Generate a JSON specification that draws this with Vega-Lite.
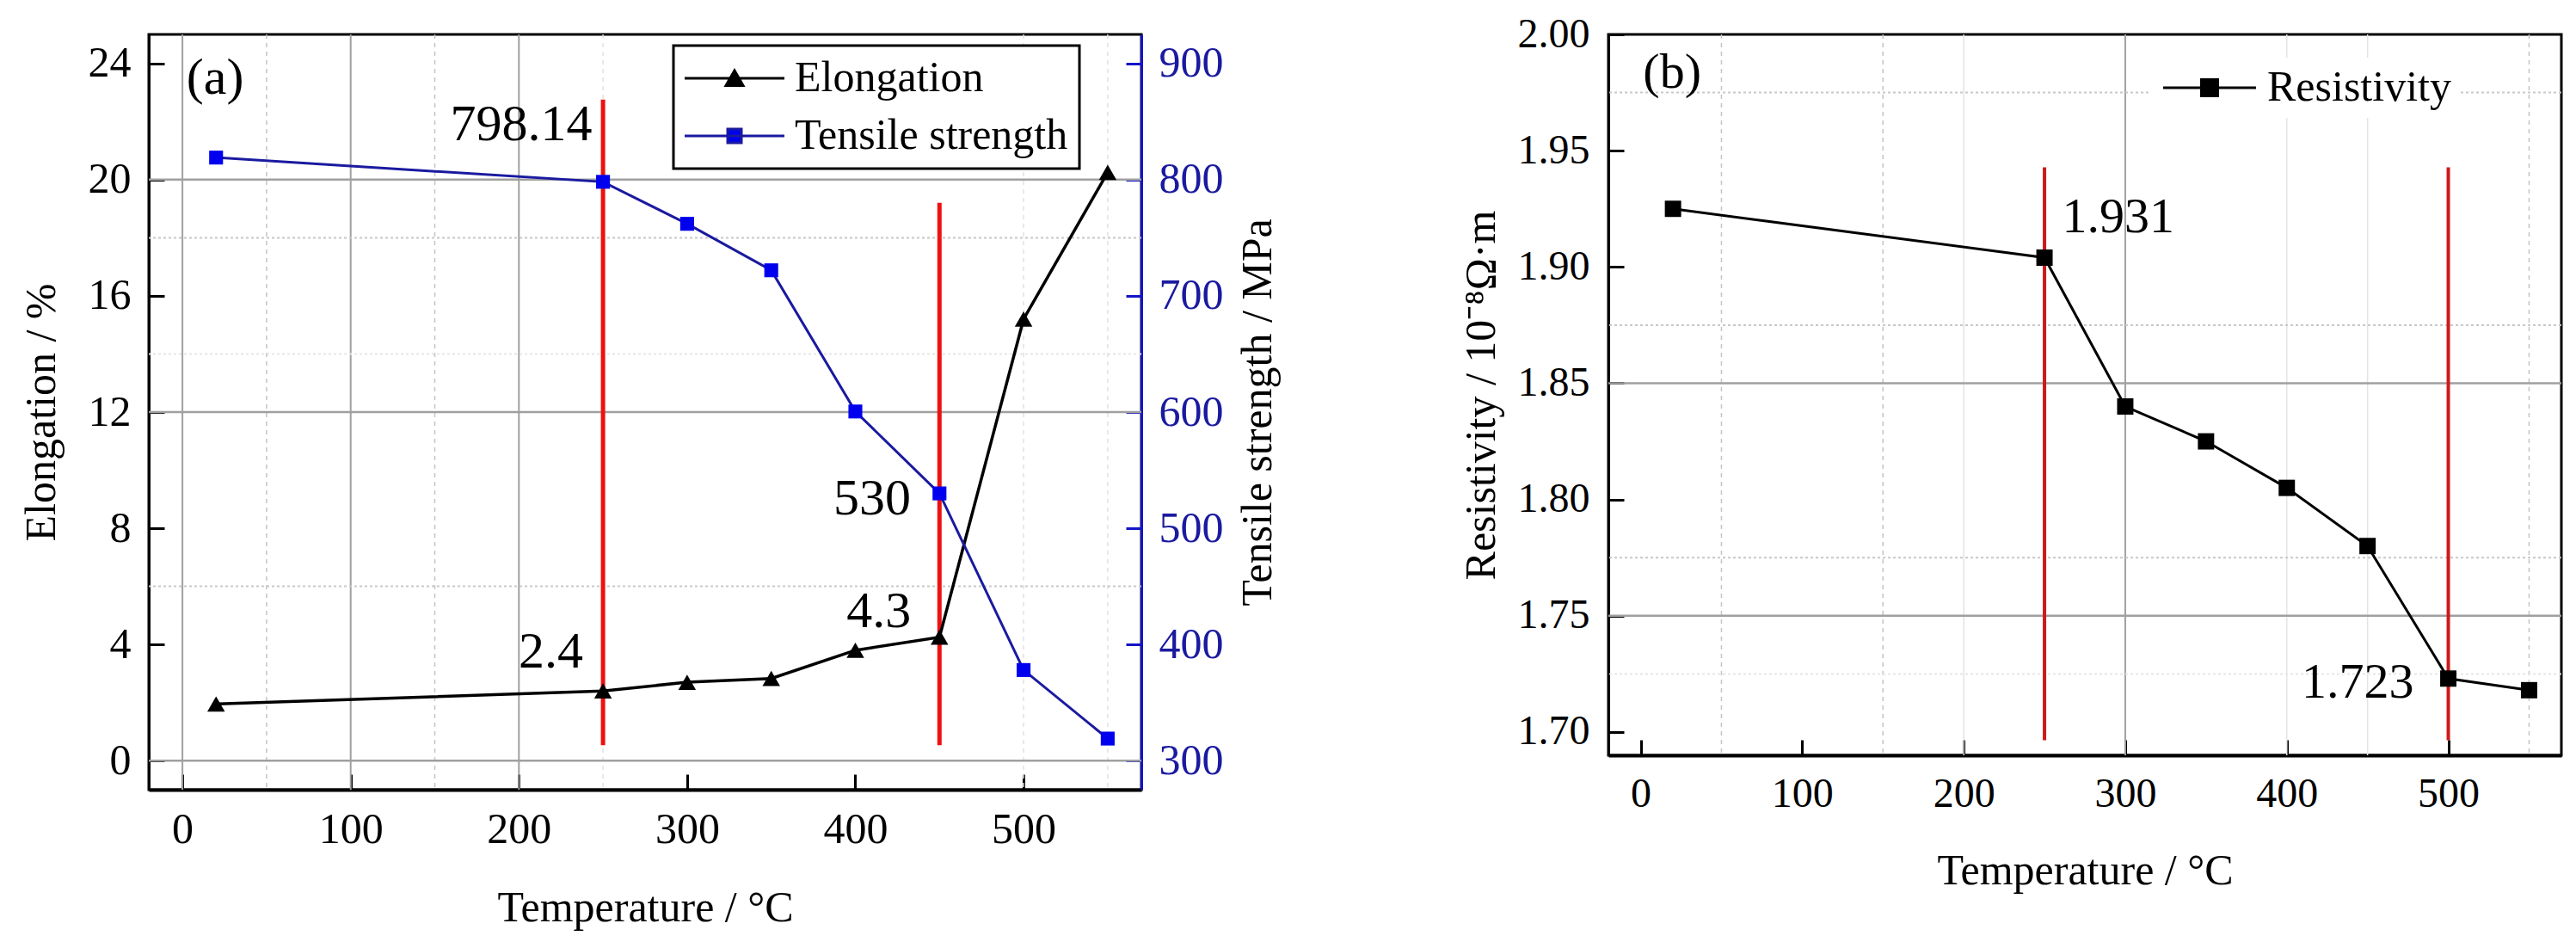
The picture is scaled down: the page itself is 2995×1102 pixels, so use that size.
{
  "$schema": "https://vega.github.io/schema/vega-lite/v6.json",
  "background": "white",
  "autosize": {"type": "none"},
  "padding": {"left": 173, "top": 40, "right": 2822, "bottom": 1062},
  "bounds": "flush",
  "spacing": 543,
  "datasets": {
    "mech": [
      {"T": 20, "elong": 1.95, "tensile": 819},
      {"T": 250, "elong": 2.4, "tensile": 798.14},
      {"T": 300, "elong": 2.7, "tensile": 762},
      {"T": 350, "elong": 2.83, "tensile": 722},
      {"T": 400, "elong": 3.8, "tensile": 600.5},
      {"T": 450, "elong": 4.25, "tensile": 530},
      {"T": 500, "elong": 15.2, "tensile": 378},
      {"T": 550, "elong": 20.25, "tensile": 319}
    ],
    "res": [
      {"T": 20, "rho": 1.925},
      {"T": 250, "rho": 1.904},
      {"T": 300, "rho": 1.84},
      {"T": 350, "rho": 1.825},
      {"T": 400, "rho": 1.805},
      {"T": 450, "rho": 1.78},
      {"T": 500, "rho": 1.723},
      {"T": 550, "rho": 1.718}
    ],
    "redA": [
      {"T": 250, "y1": 0.53, "y2": 22.76},
      {"T": 450, "y1": 0.53, "y2": 19.2}
    ],
    "redB": [
      {"T": 250, "y1": 1.6965, "y2": 1.9428},
      {"T": 500, "y1": 1.6965, "y2": 1.9428}
    ],
    "annA": [
      {"T": 201.4, "y": 21.9, "label": "798.14"},
      {"T": 219, "y": 3.74, "label": "2.4"},
      {"T": 414, "y": 5.13, "label": "4.3"},
      {"T": 410, "y": 9.0, "label": "530"},
      {"T": 19.4, "y": 23.5, "label": "(a)"}
    ],
    "annB": [
      {"T": 295.7, "y": 1.9211, "label": "1.931"},
      {"T": 443.9, "y": 1.7211, "label": "1.723"},
      {"T": 19.5, "y": 1.9835, "label": "(b)"}
    ]
  },
  "hconcat": [
    {
      "width": 1154,
      "height": 878,
      "layer": [
        {
          "data": {"values": [{"v": 0}, {"v": 100}, {"v": 200}]},
          "mark": {"type": "rule", "color": "#a0a0a0", "strokeWidth": 2},
          "encoding": {
            "x": {"field": "v", "type": "quantitative", "scale": {"domain": [-20, 570], "nice": false, "zero": false},
              "axis": {"values": [0, 100, 200, 300, 400, 500], "title": "Temperature / °C", "domainWidth": 4, "labelPadding": 39.5, "titlePadding": 41}}
          }
        },
        {
          "data": {"values": [{"v": 50}, {"v": 150}]},
          "mark": {"type": "rule", "color": "#c4c4c4", "strokeWidth": 1.5, "strokeDash": [5, 5]},
          "encoding": {"x": {"field": "v", "type": "quantitative", "scale": {"domain": [-20, 570], "nice": false, "zero": false},
            "axis": {"values": [0, 100, 200, 300, 400, 500], "title": "Temperature / °C", "domainWidth": 4, "labelPadding": 39.5, "titlePadding": 41}}}
        },
        {
          "data": {"values": [{"v": 250}, {"v": 500}, {"v": 550}]},
          "mark": {"type": "rule", "color": "#e2e2e2", "strokeWidth": 1.5, "strokeDash": [5, 5]},
          "encoding": {"x": {"field": "v", "type": "quantitative", "scale": {"domain": [-20, 570], "nice": false, "zero": false},
            "axis": {"values": [0, 100, 200, 300, 400, 500], "title": "Temperature / °C", "domainWidth": 4, "labelPadding": 39.5, "titlePadding": 41}}}
        },
        {
          "data": {"values": [{"h": 0}, {"h": 12}, {"h": 20}]},
          "mark": {"type": "rule", "color": "#a0a0a0", "strokeWidth": 2.5},
          "encoding": {"y": {"field": "h", "type": "quantitative", "scale": {"domain": [-1, 25], "nice": false, "zero": false}, "axis": null}}
        },
        {
          "data": {"values": [{"h": 6}, {"h": 18}]},
          "mark": {"type": "rule", "color": "#c8c8c8", "strokeWidth": 2, "strokeDash": [3, 3]},
          "encoding": {"y": {"field": "h", "type": "quantitative", "scale": {"domain": [-1, 25], "nice": false, "zero": false}, "axis": null}}
        },
        {
          "data": {"values": [{"h": 14}]},
          "mark": {"type": "rule", "color": "#e6e6e6", "strokeWidth": 2, "strokeDash": [3, 3]},
          "encoding": {"y": {"field": "h", "type": "quantitative", "scale": {"domain": [-1, 25], "nice": false, "zero": false}, "axis": null}}
        },
        {
          "data": {"name": "redA"},
          "mark": {"type": "rule", "color": "#ee1111", "strokeWidth": 5},
          "encoding": {
            "x": {"field": "T", "type": "quantitative", "scale": {"domain": [-20, 570], "nice": false, "zero": false},
              "axis": {"values": [0, 100, 200, 300, 400, 500], "title": "Temperature / °C", "domainWidth": 4, "labelPadding": 39.5, "titlePadding": 41}},
            "y": {"field": "y1", "type": "quantitative", "scale": {"domain": [-1, 25], "nice": false, "zero": false}, "axis": null},
            "y2": {"field": "y2"}
          }
        },
        {
          "data": {"name": "mech"},
          "mark": {"type": "line", "strokeWidth": 3.5, "color": "black"},
          "encoding": {
            "x": {"field": "T", "type": "quantitative", "scale": {"domain": [-20, 570], "nice": false, "zero": false},
              "axis": {"values": [0, 100, 200, 300, 400, 500], "title": "Temperature / °C", "domainWidth": 4, "labelPadding": 39.5, "titlePadding": 41}},
            "y": {"field": "elong", "type": "quantitative", "scale": {"domain": [-1, 25], "nice": false, "zero": false},
              "axis": {"values": [0, 4, 8, 12, 16, 20, 24], "title": "Elongation / %", "labelPadding": 39, "titlePadding": 29}}
          }
        },
        {
          "data": {"name": "mech"},
          "mark": {"type": "point", "shape": "triangle-up", "filled": true, "color": "black", "size": 420, "opacity": 1},
          "encoding": {
            "x": {"field": "T", "type": "quantitative", "scale": {"domain": [-20, 570], "nice": false, "zero": false},
              "axis": {"values": [0, 100, 200, 300, 400, 500], "title": "Temperature / °C", "domainWidth": 4, "labelPadding": 39.5, "titlePadding": 41}},
            "y": {"field": "elong", "type": "quantitative", "scale": {"domain": [-1, 25], "nice": false, "zero": false}, "axis": null}
          }
        },
        {
          "data": {"name": "annA"},
          "mark": {"type": "text", "fontSize": 60, "font": "Liberation Serif, Times New Roman, Times, serif", "color": "black", "align": "center", "baseline": "middle"},
          "encoding": {
            "x": {"field": "T", "type": "quantitative", "scale": {"domain": [-20, 570], "nice": false, "zero": false},
              "axis": {"values": [0, 100, 200, 300, 400, 500], "title": "Temperature / °C", "domainWidth": 4, "labelPadding": 39.5, "titlePadding": 41}},
            "y": {"field": "y", "type": "quantitative", "scale": {"domain": [-1, 25], "nice": false, "zero": false}, "axis": null},
            "text": {"field": "label"}
          }
        },
        {
          "data": {"name": "mech"},
          "mark": {"type": "line", "strokeWidth": 3, "color": "#1a1aa0"},
          "encoding": {
            "x": {"field": "T", "type": "quantitative", "scale": {"domain": [-20, 570], "nice": false, "zero": false},
              "axis": {"values": [0, 100, 200, 300, 400, 500], "title": "Temperature / °C", "domainWidth": 4, "labelPadding": 39.5, "titlePadding": 41}},
            "y": {"field": "tensile", "type": "quantitative", "scale": {"domain": [275, 925], "nice": false, "zero": false},
              "axis": {"orient": "right", "values": [300, 400, 500, 600, 700, 800, 900], "title": "Tensile strength / MPa", "titleAngle": -90, "titleBaseline": "top", "labelColor": "#1a1aa0", "domainColor": "#1414c8", "tickColor": "#1414c8", "labelPadding": 38, "titlePadding": 15}}
          }
        },
        {
          "data": {"name": "mech"},
          "mark": {"type": "point", "shape": "square", "filled": true, "color": "#0000ee", "size": 260, "opacity": 1},
          "encoding": {
            "x": {"field": "T", "type": "quantitative", "scale": {"domain": [-20, 570], "nice": false, "zero": false},
              "axis": {"values": [0, 100, 200, 300, 400, 500], "title": "Temperature / °C", "domainWidth": 4, "labelPadding": 39.5, "titlePadding": 41}},
            "y": {"field": "tensile", "type": "quantitative", "scale": {"domain": [275, 925], "nice": false, "zero": false}, "axis": null}
          }
        },
        {
          "data": {"values": []},
          "mark": {"type": "point", "filled": true, "opacity": 1},
          "encoding": {
            "x": {"field": "T", "type": "quantitative", "scale": {"domain": [-20, 570], "nice": false, "zero": false},
              "axis": {"values": [0, 100, 200, 300, 400, 500], "title": "Temperature / °C", "domainWidth": 4, "labelPadding": 39.5, "titlePadding": 41}},
            "y": {"field": "elong", "type": "quantitative", "scale": {"domain": [-1, 25], "nice": false, "zero": false}, "axis": null},
            "fill": {
              "datum": "Elongation", "type": "nominal",
              "scale": {"domain": ["Elongation", "Tensile strength"], "range": ["black", "#0000ee"]},
              "legend": {"orient": "none", "legendX": 610, "legendY": 13, "title": null, "symbolSize": 400, "symbolStrokeWidth": 3, "symbolOffset": 33, "symbolOpacity": 1,
                "labelOffset": 45, "labelLimit": 800, "labelFontSize": 50, "rowPadding": 17, "padding": 13, "strokeColor": "black", "fillColor": "white"}
            },
            "stroke": {
              "datum": "Elongation", "type": "nominal",
              "scale": {"domain": ["Elongation", "Tensile strength"], "range": ["black", "#1a1aa0"]},
              "legend": {"orient": "none", "legendX": 610, "legendY": 13, "title": null, "symbolSize": 400, "symbolStrokeWidth": 3, "symbolOffset": 33, "symbolOpacity": 1,
                "labelOffset": 45, "labelLimit": 800, "labelFontSize": 50, "rowPadding": 17, "padding": 13, "strokeColor": "black", "fillColor": "white"}
            },
            "shape": {
              "datum": "Elongation", "type": "nominal",
              "scale": {"domain": ["Elongation", "Tensile strength"], "range": ["M-5.8,0H5.8M-1,0.85L0,-0.9L1,0.85Z", "M-5.8,0H5.8M-0.8,-0.8H0.8V0.8H-0.8Z"]},
              "legend": {"orient": "none", "legendX": 610, "legendY": 13, "title": null, "symbolSize": 400, "symbolStrokeWidth": 3, "symbolOffset": 33, "symbolOpacity": 1,
                "labelOffset": 45, "labelLimit": 800, "labelFontSize": 50, "rowPadding": 17, "padding": 13, "strokeColor": "black", "fillColor": "white"}
            }
          }
        }
      ],
      "resolve": {"scale": {"y": "independent"}}
    },
    {
      "width": 1108,
      "height": 838,
      "layer": [
        {
          "data": {"values": [{"v": 300}]},
          "mark": {"type": "rule", "color": "#a0a0a0", "strokeWidth": 2},
          "encoding": {
            "x": {"field": "v", "type": "quantitative", "scale": {"domain": [-20, 570], "nice": false, "zero": false},
              "axis": {"values": [0, 100, 200, 300, 400, 500], "title": "Temperature / °C", "domainWidth": 4, "labelFontSize": 48, "labelPadding": 39, "titlePadding": 40}}
          }
        },
        {
          "data": {"values": [{"v": 50}, {"v": 150}, {"v": 550}]},
          "mark": {"type": "rule", "color": "#c4c4c4", "strokeWidth": 1.5, "strokeDash": [5, 5]},
          "encoding": {"x": {"field": "v", "type": "quantitative", "scale": {"domain": [-20, 570], "nice": false, "zero": false},
            "axis": {"values": [0, 100, 200, 300, 400, 500], "title": "Temperature / °C", "domainWidth": 4, "labelFontSize": 48, "labelPadding": 39, "titlePadding": 40}}}
        },
        {
          "data": {"values": [{"v": 200}, {"v": 400}, {"v": 450}]},
          "mark": {"type": "rule", "color": "#e4e4e4", "strokeWidth": 1.5},
          "encoding": {"x": {"field": "v", "type": "quantitative", "scale": {"domain": [-20, 570], "nice": false, "zero": false},
            "axis": {"values": [0, 100, 200, 300, 400, 500], "title": "Temperature / °C", "domainWidth": 4, "labelFontSize": 48, "labelPadding": 39, "titlePadding": 40}}}
        },
        {
          "data": {"values": [{"h": 1.85}, {"h": 1.75}]},
          "mark": {"type": "rule", "color": "#a0a0a0", "strokeWidth": 2.5},
          "encoding": {"y": {"field": "h", "type": "quantitative", "scale": {"domain": [1.69, 2.0], "nice": false, "zero": false},
            "axis": {"values": [1.7, 1.75, 1.8, 1.85, 1.9, 1.95, 2.0], "format": ".2f", "title": "Resistivity / 10⁻⁸Ω·m", "labelFontSize": 48, "labelPadding": 40, "titlePadding": 17}}}
        },
        {
          "data": {"values": [{"h": 1.975}, {"h": 1.875}, {"h": 1.775}]},
          "mark": {"type": "rule", "color": "#c8c8c8", "strokeWidth": 2, "strokeDash": [3, 3]},
          "encoding": {"y": {"field": "h", "type": "quantitative", "scale": {"domain": [1.69, 2.0], "nice": false, "zero": false},
            "axis": {"values": [1.7, 1.75, 1.8, 1.85, 1.9, 1.95, 2.0], "format": ".2f", "title": "Resistivity / 10⁻⁸Ω·m", "labelFontSize": 48, "labelPadding": 40, "titlePadding": 17}}}
        },
        {
          "data": {"values": [{"h": 1.725}]},
          "mark": {"type": "rule", "color": "#e6e6e6", "strokeWidth": 2, "strokeDash": [3, 3]},
          "encoding": {"y": {"field": "h", "type": "quantitative", "scale": {"domain": [1.69, 2.0], "nice": false, "zero": false},
            "axis": {"values": [1.7, 1.75, 1.8, 1.85, 1.9, 1.95, 2.0], "format": ".2f", "title": "Resistivity / 10⁻⁸Ω·m", "labelFontSize": 48, "labelPadding": 40, "titlePadding": 17}}}
        },
        {
          "data": {"name": "redB"},
          "mark": {"type": "rule", "color": "#cc1a1a", "strokeWidth": 4},
          "encoding": {
            "x": {"field": "T", "type": "quantitative", "scale": {"domain": [-20, 570], "nice": false, "zero": false},
              "axis": {"values": [0, 100, 200, 300, 400, 500], "title": "Temperature / °C", "domainWidth": 4, "labelFontSize": 48, "labelPadding": 39, "titlePadding": 40}},
            "y": {"field": "y1", "type": "quantitative", "scale": {"domain": [1.69, 2.0], "nice": false, "zero": false},
              "axis": {"values": [1.7, 1.75, 1.8, 1.85, 1.9, 1.95, 2.0], "format": ".2f", "title": "Resistivity / 10⁻⁸Ω·m", "labelFontSize": 48, "labelPadding": 40, "titlePadding": 17}},
            "y2": {"field": "y2"}
          }
        },
        {
          "data": {"name": "res"},
          "mark": {"type": "line", "strokeWidth": 3},
          "encoding": {
            "x": {"field": "T", "type": "quantitative", "scale": {"domain": [-20, 570], "nice": false, "zero": false},
              "axis": {"values": [0, 100, 200, 300, 400, 500], "title": "Temperature / °C", "domainWidth": 4, "labelFontSize": 48, "labelPadding": 39, "titlePadding": 40}},
            "y": {"field": "rho", "type": "quantitative", "scale": {"domain": [1.69, 2.0], "nice": false, "zero": false},
              "axis": {"values": [1.7, 1.75, 1.8, 1.85, 1.9, 1.95, 2.0], "format": ".2f", "title": "Resistivity / 10⁻⁸Ω·m", "labelFontSize": 48, "labelPadding": 40, "titlePadding": 17}},
            "color": {
              "datum": "Resistivity", "type": "nominal",
              "scale": {"domain": ["Resistivity"], "range": ["black"]},
              "legend": {
                "orient": "none", "legendX": 629, "legendY": 27, "title": null,
                "symbolType": "M-5.4,0H5.4M-0.95,-0.95H0.95V0.95H-0.95Z",
                "symbolSize": 400, "symbolStrokeWidth": 3, "symbolOffset": 35, "symbolFillColor": "black",
                "labelOffset": 42, "labelLimit": 800, "labelFontSize": 50, "padding": 10,
                "strokeColor": "transparent", "fillColor": "white"
              }
            }
          }
        },
        {
          "data": {"name": "res"},
          "mark": {"type": "point", "shape": "square", "filled": true, "color": "black", "size": 360, "opacity": 1},
          "encoding": {
            "x": {"field": "T", "type": "quantitative", "scale": {"domain": [-20, 570], "nice": false, "zero": false},
              "axis": {"values": [0, 100, 200, 300, 400, 500], "title": "Temperature / °C", "domainWidth": 4, "labelFontSize": 48, "labelPadding": 39, "titlePadding": 40}},
            "y": {"field": "rho", "type": "quantitative", "scale": {"domain": [1.69, 2.0], "nice": false, "zero": false},
              "axis": {"values": [1.7, 1.75, 1.8, 1.85, 1.9, 1.95, 2.0], "format": ".2f", "title": "Resistivity / 10⁻⁸Ω·m", "labelFontSize": 48, "labelPadding": 40, "titlePadding": 17}}
          }
        },
        {
          "data": {"name": "annB"},
          "mark": {"type": "text", "fontSize": 58, "font": "Liberation Serif, Times New Roman, Times, serif", "color": "black", "align": "center", "baseline": "middle"},
          "encoding": {
            "x": {"field": "T", "type": "quantitative", "scale": {"domain": [-20, 570], "nice": false, "zero": false},
              "axis": {"values": [0, 100, 200, 300, 400, 500], "title": "Temperature / °C", "domainWidth": 4, "labelFontSize": 48, "labelPadding": 39, "titlePadding": 40}},
            "y": {"field": "y", "type": "quantitative", "scale": {"domain": [1.69, 2.0], "nice": false, "zero": false},
              "axis": {"values": [1.7, 1.75, 1.8, 1.85, 1.9, 1.95, 2.0], "format": ".2f", "title": "Resistivity / 10⁻⁸Ω·m", "labelFontSize": 48, "labelPadding": 40, "titlePadding": 17}},
            "text": {"field": "label"}
          }
        }
      ]
    }
  ],
  "resolve": {"scale": {"color": "independent"}, "legend": {"color": "independent"}},
  "config": {
    "font": "Liberation Serif, Times New Roman, Times, serif",
    "view": {"stroke": "black", "strokeWidth": 3},
    "axis": {
      "grid": false,
      "labelFont": "Liberation Serif, Times New Roman, Times, serif",
      "titleFont": "Liberation Serif, Times New Roman, Times, serif",
      "labelFontSize": 50,
      "titleFontSize": 50,
      "titleFontWeight": "normal",
      "labelColor": "black",
      "titleColor": "black",
      "domainColor": "black",
      "tickColor": "black",
      "domainWidth": 3,
      "tickWidth": 3,
      "tickSize": -18,
      "labelFlush": false,
      "labelOverlap": false
    },
    "legend": {
      "labelFont": "Liberation Serif, Times New Roman, Times, serif",
      "labelColor": "black",
      "strokeColor": "black",
      "strokeWidth": 3,
      "fillColor": "white",
      "padding": 13
    }
  }
}
